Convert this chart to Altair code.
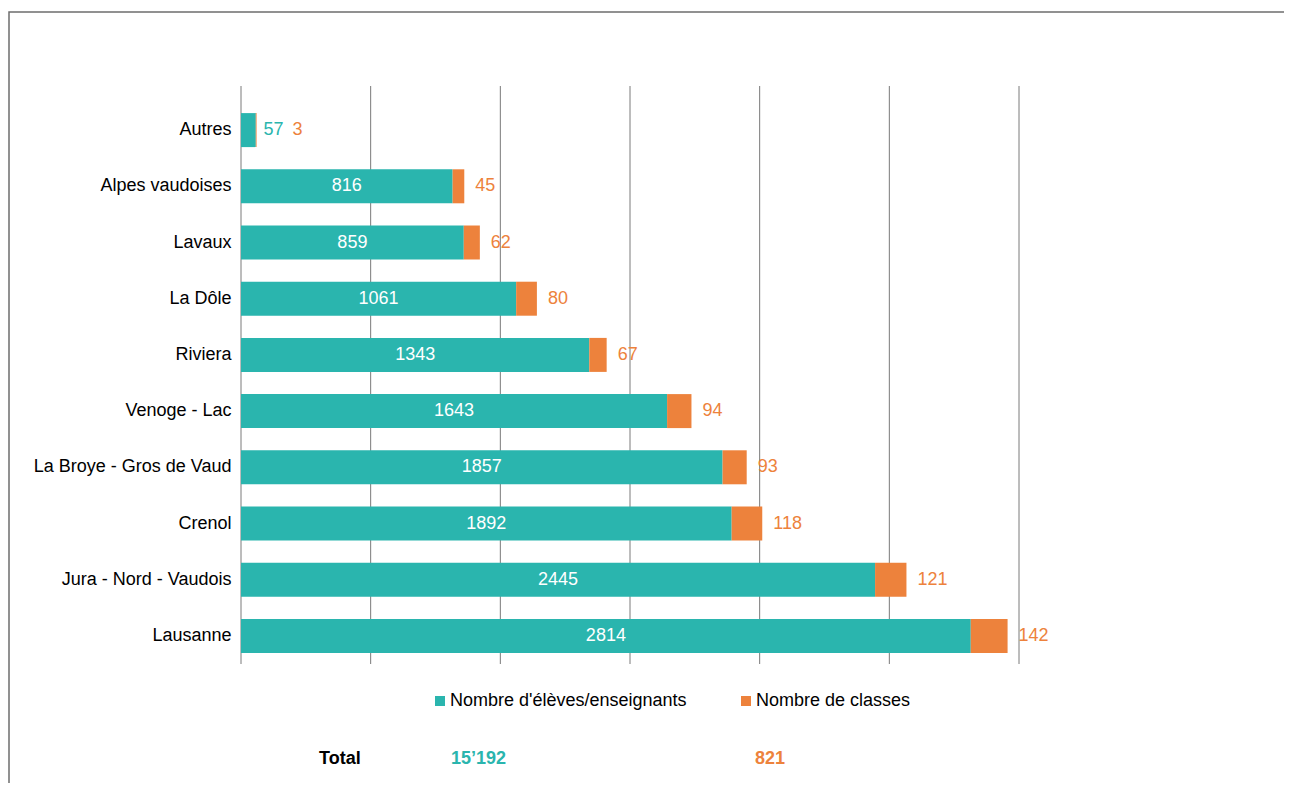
import altair as alt
import pandas as pd

# ---- data ----
regions = ["Autres", "Alpes vaudoises", "Lavaux", "La Dôle", "Riviera", "Venoge - Lac",
           "La Broye - Gros de Vaud", "Crenol", "Jura - Nord - Vaudois", "Lausanne"]
eleves = [57, 816, 859, 1061, 1343, 1643, 1857, 1892, 2445, 2814]
classes = [3, 45, 62, 80, 67, 94, 93, 118, 121, 142]
series = ["Nombre d'élèves/enseignants", "Nombre de classes"]
grid_values = [0, 500, 1000, 1500, 2000, 2500, 3000]
total_label = "Total"
total_eleves = "15’192"
total_classes = "821"

TEAL = "#2ab5ae"
ORANGE = "#ed823c"
FONT = "Liberation Sans"
FS = 18

wide = pd.DataFrame({"region": regions, "eleves": eleves, "classes": classes})
long = pd.DataFrame({
    "region": regions + regions,
    "serie": [series[0]] * len(regions) + [series[1]] * len(regions),
    "value": eleves + classes,
    "ord": [0] * len(regions) + [1] * len(regions),
})
grid = pd.DataFrame({"g": grid_values})
one = pd.DataFrame({"a": [0]})

xsc = alt.Scale(domain=[0, 3000], nice=False, zero=True)
yenc = alt.Y("region:N", sort=regions,
             scale=alt.Scale(paddingInner=0.395, paddingOuter=0.1975),
             axis=alt.Axis(title=None, domain=False, ticks=False, grid=False,
                           labelFontSize=FS, labelColor="#000000", labelPadding=10,
                           labelLimit=400, labelFont=FONT))

border = alt.Chart(one).mark_rect(fillOpacity=0, stroke="#6e6e6e", strokeWidth=1.5).encode(
    x=alt.value(-232), x2=alt.value(1200), y=alt.value(-90), y2=alt.value(900))

rules = alt.Chart(grid).mark_rule(color="#7a7a7a", strokeWidth=1).encode(
    x=alt.X("g:Q", scale=xsc, axis=None), y=alt.value(-16), y2=alt.value(562))

bars = alt.Chart(long).mark_bar().encode(
    x=alt.X("value:Q", stack="zero", scale=xsc, axis=None),
    y=yenc,
    color=alt.Color("serie:N", scale=alt.Scale(domain=series, range=[TEAL, ORANGE]),
                    legend=alt.Legend(title=None, orient="none", legendX=190, legendY=590,
                                      direction="horizontal", symbolType="square",
                                      symbolSize=100, symbolStrokeWidth=0,
                                      labelFontSize=FS, labelFont=FONT, labelColor="#000000",
                                      labelLimit=500, columnPadding=50, labelOffset=1)),
    order=alt.Order("ord:Q"),
)

base = alt.Chart(wide).transform_calculate(
    total="datum.eleves + datum.classes", mid="datum.eleves / 2")

inside = base.transform_filter("datum.eleves >= 200").mark_text(
    color="white", fontSize=FS, font=FONT, align="center", baseline="middle").encode(
    x=alt.X("mid:Q", scale=xsc, axis=None), y=alt.Y("region:N", sort=regions), text="eleves:Q")

outside_teal = base.transform_filter("datum.eleves < 200").mark_text(
    color=TEAL, fontSize=FS, font=FONT, align="left", baseline="middle", dx=7).encode(
    x=alt.X("total:Q", scale=xsc, axis=None), y=alt.Y("region:N", sort=regions), text="eleves:Q")

orange_lbl = base.transform_filter("datum.eleves >= 200").mark_text(
    color=ORANGE, fontSize=FS, font=FONT, align="left", baseline="middle", dx=11).encode(
    x=alt.X("total:Q", scale=xsc, axis=None), y=alt.Y("region:N", sort=regions), text="classes:Q")

orange_small = base.transform_filter("datum.eleves < 200").mark_text(
    color=ORANGE, fontSize=FS, font=FONT, align="left", baseline="middle", dx=36).encode(
    x=alt.X("total:Q", scale=xsc, axis=None), y=alt.Y("region:N", sort=regions), text="classes:Q")

t1 = alt.Chart(one).mark_text(text=total_label, fontSize=FS, font=FONT, fontWeight="bold",
                              color="#000000", align="left", baseline="middle").encode(
    x=alt.value(78), y=alt.value(657))
t2 = alt.Chart(one).mark_text(text=total_eleves, fontSize=FS, font=FONT, fontWeight="bold",
                              color=TEAL, align="left", baseline="middle").encode(
    x=alt.value(210), y=alt.value(657))
t3 = alt.Chart(one).mark_text(text=total_classes, fontSize=FS, font=FONT, fontWeight="bold",
                              color=ORANGE, align="left", baseline="middle").encode(
    x=alt.value(514), y=alt.value(657))

chart = alt.layer(border, rules, bars, inside, outside_teal, orange_lbl, orange_small, t1, t2, t3).properties(
    width=778, height=562,
    padding={"left": 233, "top": 94, "right": 265, "bottom": 119},
    autosize=alt.AutoSizeParams(type="none"),
).configure(background="white", view=alt.ViewConfig(stroke=None))

chart.save("out.html", embed_options={"renderer": "svg", "actions": False})
